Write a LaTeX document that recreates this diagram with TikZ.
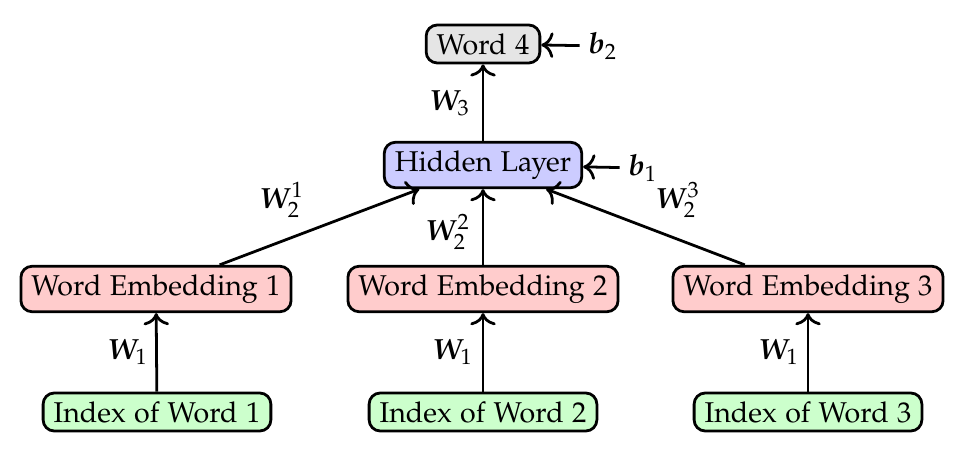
\documentclass[tikz,border=0pt]{standalone}
\usepackage[T1]{fontenc}
\usepackage[sc]{mathpazo}
\usepackage{bm}
\usetikzlibrary{arrows.meta}
\tikzset{
  box/.style={draw, line width=1pt, rounded corners=4pt, inner xsep=3.8pt, inner ysep=3pt, font=\fontsize{10.3}{12}\selectfont},
  emb/.style={box, fill=red!20},
  idx/.style={box, fill=green!20},
  hid/.style={box, fill=blue!20},
  outw/.style={box, fill=gray!20},
  conn/.style={-{Computer Modern Rightarrow[scale=1.15]}, line width=1pt},
  lab/.style={font=\fontsize{10.5}{12}\selectfont, inner sep=1pt},
  blab/.style={font=\fontsize{10.5}{12}\selectfont, inner sep=3pt}
}
\begin{document}
\begin{tikzpicture}[x=0.36pt,y=-0.36pt]
\useasboundingbox (0,0) rectangle (974,460);
\node[outw] (w4) at (483,44) {Word 4};
\node[hid] (hid) at (483,165) {Hidden Layer};
\node[emb] (e1) at (156,289) {Word Embedding 1};
\node[emb] (e2) at (483,289) {Word Embedding 2};
\node[emb] (e3) at (808,289) {Word Embedding 3};
\node[idx] (i1) at (157,412) {Index of Word 1};
\node[idx] (i2) at (483,412) {Index of Word 2};
\node[idx] (i3) at (808,412) {Index of Word 3};
\node[blab] (b2) at (603,46) {$\bm{b}_2$};
\node[blab] (b1) at (643,168) {$\bm{b}_1$};
\draw[conn] (b2) -- (w4);
\draw[conn] (b1) -- (hid);
\draw[conn] (hid) -- (w4);
\draw[conn] (e1) -- (hid);
\draw[conn] (e2) -- (hid);
\draw[conn] (e3) -- (hid);
\draw[conn] (i1) -- (e1);
\draw[conn] (i2) -- (e2);
\draw[conn] (i3) -- (e3);
\node[lab] (lw3) at (450,103) {$\bm{W}_3$};
\node[lab] (lw21) at (282,200) {$\bm{W}_2^1$};
\node[lab] (lw22) at (448,232) {$\bm{W}_2^2$};
\node[lab] (lw23) at (678,200) {$\bm{W}_2^3$};
\node[lab] (lw1a) at (128,352) {$\bm{W}_1$};
\node[lab] (lw1b) at (453,352) {$\bm{W}_1$};
\node[lab] (lw1c) at (779,352) {$\bm{W}_1$};
\end{tikzpicture}
\end{document}
